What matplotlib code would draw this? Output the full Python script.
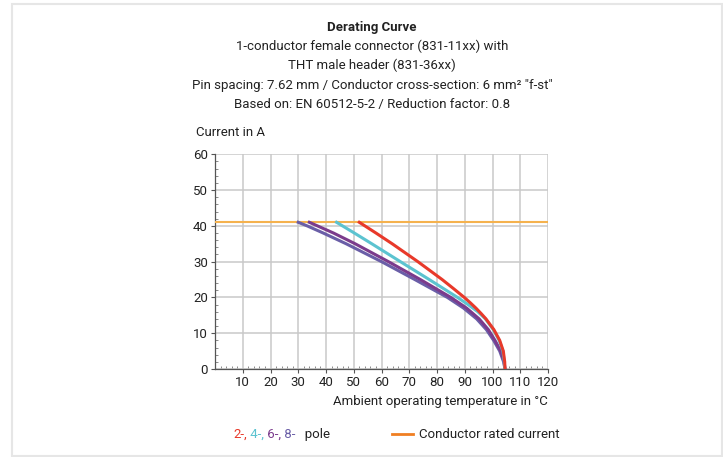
import matplotlib
matplotlib.use("Agg")
import matplotlib.pyplot as plt
from matplotlib.patches import Rectangle
from matplotlib.lines import Line2D
from matplotlib.ticker import MultipleLocator

plt.rcParams['font.family'] = ['Roboto', 'DejaVu Sans']

# values (ambient temp in degC, current in A)
rated_current = 41.0

temp_2pole = [52, 58, 63.85, 73.1, 81.85, 85.9, 89.85, 92.0, 94.05, 95.9, 97.65, 100.5, 102.6, 103.9, 104.4, 104.5]
curr_2pole = [41, 38, 35, 30, 25, 22.5, 20, 18.5, 17, 15.5, 14, 11, 8, 5, 2, 0]

temp_4pole = [43.8, 50.2, 56.5, 66.8, 77.2, 87.4, 91.2, 94.7, 97.45, 100.3, 102.4, 103.75, 104.25, 104.4]
curr_4pole = [41, 38, 35, 30, 25, 20, 18, 16, 14, 11, 8, 5, 2, 0]

temp_6pole = [34, 36.9, 42.7, 50.5, 62.5, 74, 85, 90.7, 95.2, 98.5, 100.9, 103.0, 104.2, 104.5]
curr_6pole = [41, 40, 38, 35, 30, 25, 20, 17, 14, 11, 8, 5, 2, 0]

temp_8pole = [30, 33.2, 39, 47.25, 60, 72, 83.75, 89.6, 94.3, 97.8, 100.4, 102.6, 104.0, 104.5]
curr_8pole = [41, 40, 38, 35, 30, 25, 20, 17, 14, 11, 8, 5, 2, 0]

colors = {
    '2': '#e8392a',
    '4': '#5cc3d0',
    '6': '#7b3b8c',
    '8': '#6a5ea7',
}
rated_color = '#f5b24e'
legend_orange = '#f07f22'
text_color = '#222222'

title_lines = [
    "1-conductor female connector (831-11xx) with",
    "THT male header (831-36xx)",
    "Pin spacing: 7.62 mm / Conductor cross-section: 6 mm\u00b2 \"f-st\"",
    "Based on: EN 60512-5-2 / Reduction factor: 0.8",
]
legend_parts = [("2-,", colors['2']), (" 4-,", colors['4']), (" 6-,", colors['6']),
                (" 8-", colors['8']), ("   pole", text_color)]

W, H = 723, 457
fig = plt.figure(figsize=(W / 100, H / 100), dpi=100)

# light frame around the whole picture
fig.patches.append(Rectangle((12 / W, 1 - 456 / H), 710 / W, 452 / H,
                             transform=fig.transFigure, fill=False,
                             edgecolor='#e6e6e6', linewidth=1.5))

ax = fig.add_axes([215 / W, 1 - 369 / H, 333 / W, 214.7 / H])

ax.axhline(rated_current, color=rated_color, linewidth=1.5, zorder=3)
ax.plot(temp_8pole, curr_8pole, color=colors['8'], linewidth=2.2, zorder=4)
ax.plot(temp_6pole, curr_6pole, color=colors['6'], linewidth=2.2, zorder=5)
ax.plot(temp_4pole, curr_4pole, color=colors['4'], linewidth=2.2, zorder=6)
ax.plot(temp_2pole, curr_2pole, color=colors['2'], linewidth=2.2, zorder=7)

ax.set_xlim(0, 120)
ax.set_ylim(0, 60)
ax.set_xticks(range(10, 121, 10))
ax.set_yticks(range(0, 61, 10))
ax.xaxis.set_minor_locator(MultipleLocator(2))
ax.yaxis.set_minor_locator(MultipleLocator(2))
ax.grid(True, which='major', color='#c9c9c9', linewidth=1.1)
ax.set_axisbelow(True)

for side in ['top', 'right']:
    ax.spines[side].set_visible(False)
for side in ['left', 'bottom']:
    ax.spines[side].set_color('#555555')
    ax.spines[side].set_linewidth(0.9)

ax.tick_params(which='major', direction='out', length=3, width=0.8,
               color='#555555', labelsize=9.5, labelcolor=text_color, pad=2)
ax.tick_params(which='minor', direction='in', length=2, width=0.6, color='#777777')

ax.set_xlabel("Ambient operating temperature in \u00b0C", fontsize=9.5,
              color=text_color, loc='right', labelpad=4)
fig.text(196 / W, 1 - 133 / H, "Current in A", fontsize=9.5, color=text_color,
         ha='left', va='center')

# title block
fig.text(372 / W, 1 - 27 / H, "Derating Curve", fontsize=9.5, fontweight='bold',
         color=text_color, ha='center', va='center')
for k, line in enumerate(title_lines):
    fig.text(372 / W, 1 - (46.5 + 19.3 * k) / H, line, fontsize=9.5,
             color=text_color, ha='center', va='center')

# legend row: coloured pole counts, then the rated current line
y_leg = 1 - 438 / H
renderer = fig.canvas.get_renderer()
x_px = 233
for txt, col in legend_parts:
    t = fig.text(x_px / W, y_leg, txt, fontsize=9.5, color=col,
                 ha='left', va='baseline')
    x_px = t.get_window_extent(renderer).x1

fig.lines.append(Line2D([392 / W, 413 / W], [1 - 434 / H, 1 - 434 / H],
                        transform=fig.transFigure, color=legend_orange, linewidth=2))
fig.text(419 / W, y_leg, "Conductor rated current", fontsize=9.5, color=text_color,
         ha='left', va='baseline')

fig.savefig("out.png", dpi=100)
